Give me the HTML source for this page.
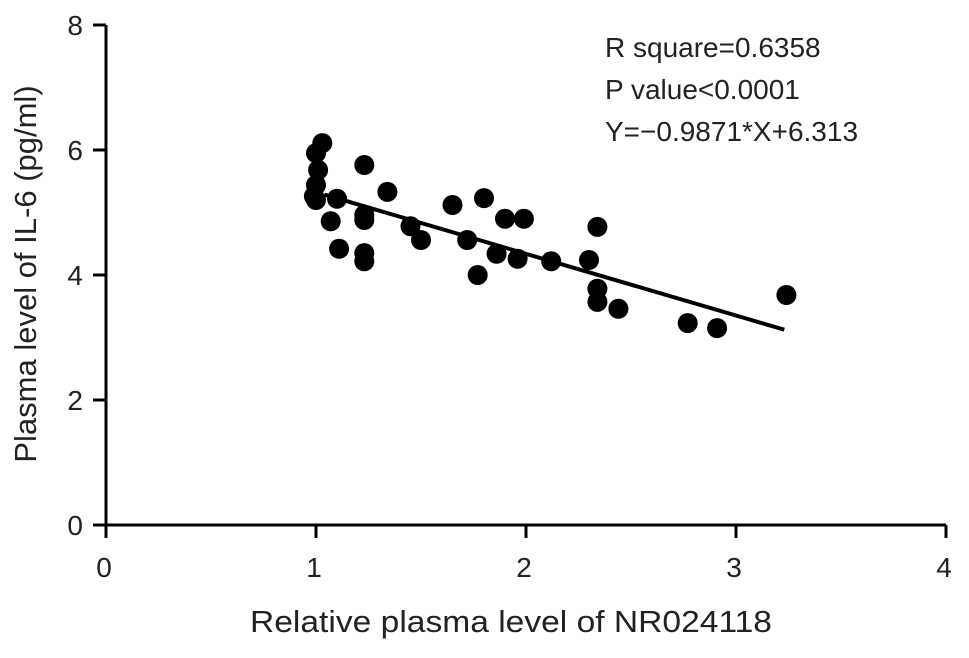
<!DOCTYPE html>
<html><head><meta charset="utf-8"><style>
body{margin:0;background:#fff}
svg text{font-family:"Liberation Sans",sans-serif;fill:#222}
</style></head><body>
<svg id="chart" width="969" height="653" viewBox="0 0 969 653">
<g id="axes"></g>
<g id="points"></g>
<g id="fit"></g>
<text x="511" y="632" font-size="31" text-anchor="middle" textLength="522" lengthAdjust="spacingAndGlyphs">Relative plasma level of NR024118</text>
<text transform="translate(36,274) rotate(-90)" font-size="31" text-anchor="middle">Plasma level of IL-6 (pg/ml)</text>
<g font-size="28">
<text x="605" y="57">R square=0.6358</text>
<text x="605" y="99">P value&lt;0.0001</text>
<text x="605" y="141">Y=−0.9871*X+6.313</text>
</g>
</svg>
<script>
const xVals=[1.03,1.0,1.01,1.0,0.99,1.0,1.1,1.23,1.34,1.07,1.11,1.23,1.23,1.23,1.23,1.45,1.5,1.65,1.8,1.72,1.77,1.9,1.99,1.86,1.96,2.12,2.3,2.34,2.34,2.34,2.44,2.77,2.91,3.24];
const yVals=[6.11,5.95,5.68,5.44,5.26,5.2,5.22,5.76,5.33,4.86,4.42,4.96,4.88,4.35,4.22,4.78,4.56,5.12,5.23,4.56,4.0,4.9,4.9,4.34,4.26,4.22,4.24,4.77,3.78,3.57,3.46,3.23,3.15,3.68];
const xTicks=[0,1,2,3,4];
const yTicks=[0,2,4,6,8];
const slope=-0.9871, intercept=6.313, fitRange=[1.04,3.23];
const NS='http://www.w3.org/2000/svg';
const X=v=>106+v*210, Y=v=>525-v*62.5;
function mk(t,a,p){const e=document.createElementNS(NS,t);for(const k in a)e.setAttribute(k,a[k]);p.appendChild(e);return e;}
const ax=document.getElementById('axes');
const yl=mk('line',{x1:106,y1:Y(8),x2:106,y2:Y(0)+1,stroke:'#000','stroke-width':3},ax);


const xl=mk('line',{x1:104.5,y1:Y(0),x2:X(4),y2:Y(0),stroke:'#000','stroke-width':3},ax);


yTicks.forEach(v=>{
 mk('line',{x1:93,y1:Y(v),x2:106,y2:Y(v),stroke:'#000','stroke-width':3},ax);
 const t=mk('text',{x:83,y:Y(v)+10,'font-size':28,'text-anchor':'end'},ax);t.textContent=v;
 
 
});
xTicks.forEach(v=>{
 mk('line',{x1:X(v),y1:Y(0),x2:X(v),y2:Y(0)+13,stroke:'#000','stroke-width':3},ax);
 const t=mk('text',{x:X(v)-2,y:Y(0)+52,'font-size':28,'text-anchor':'middle'},ax);t.textContent=v;
 
 
});
const pg=document.getElementById('points');
xVals.forEach((x,i)=>{
 const c=mk('circle',{cx:X(x),cy:Y(yVals[i]),r:10,fill:'#000'},pg);
 
 
});
const l=mk('line',{x1:X(fitRange[0]),y1:Y(slope*fitRange[0]+intercept),x2:X(fitRange[1]),y2:Y(slope*fitRange[1]+intercept),stroke:'#000','stroke-width':4},document.getElementById('fit'));


</script>
</body></html>
